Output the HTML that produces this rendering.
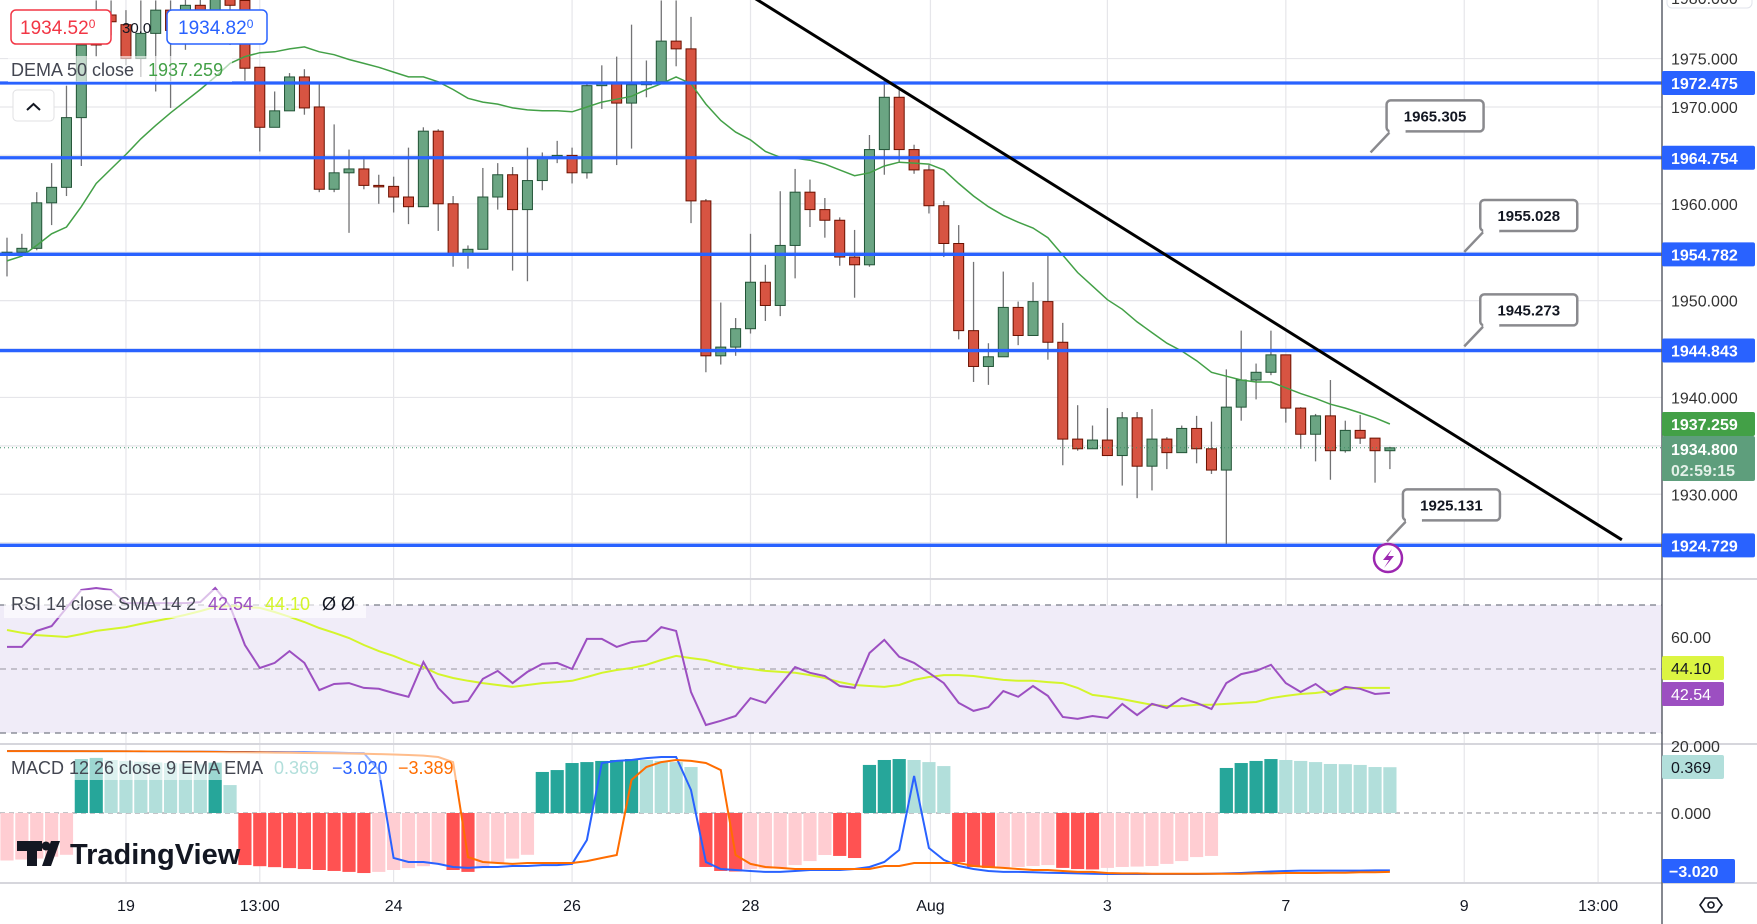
<!DOCTYPE html>
<html><head><meta charset="utf-8"><style>
html,body{margin:0;padding:0;background:#fff;}
svg{display:block;font-family:"Liberation Sans",sans-serif;}
</style></head><body>
<svg id="chart" width="1757" height="924" viewBox="0 0 1757 924" xmlns="http://www.w3.org/2000/svg">
<defs>
<clipPath id="cMain"><rect x="0" y="0" width="1662" height="579"/></clipPath>
<clipPath id="cRsi"><rect x="0" y="580" width="1662" height="164"/></clipPath>
<clipPath id="cMacd"><rect x="0" y="745" width="1662" height="138"/></clipPath>
</defs>
<rect x="0" y="0" width="1757" height="924" fill="#fff"/>
<g id="grid"></g>
<rect x="0" y="605" width="1662" height="128" fill="#f0ecf8"/>
<g id="mainG" clip-path="url(#cMain)"></g>
<g id="rsiG" clip-path="url(#cRsi)"></g>
<g id="macdG" clip-path="url(#cMacd)"></g>
<g id="overlay"></g>
<g id="axisG"></g>
</svg>
<script>
const opens=[1954.7,1955.0,1955.4,1960.1,1961.7,1968.9,1979.0,1979.5,1978.5,1975.0,1977.6,1980.0,1977.9,1980.5,1979.5,1981.6,1981.0,1974.1,1967.9,1969.6,1973.1,1970.0,1961.5,1963.2,1963.6,1961.9,1961.8,1960.7,1959.7,1967.5,1960.0,1954.7,1955.3,1960.7,1963.0,1959.4,1962.4,1964.8,1965.0,1963.2,1972.2,1972.4,1970.4,1972.3,1972.6,1976.8,1976.0,1960.3,1944.3,1945.2,1947.1,1951.9,1949.5,1955.7,1961.2,1959.4,1958.3,1954.5,1953.7,1965.6,1971.0,1965.6,1963.5,1959.8,1955.9,1946.9,1943.2,1944.2,1949.3,1946.4,1949.9,1945.7,1935.7,1934.7,1935.6,1934.0,1937.9,1932.9,1935.7,1934.3,1936.8,1934.7,1932.5,1939.0,1941.8,1942.6,1944.4,1938.9,1936.2,1938.1,1934.5,1936.6,1935.8,1934.5];
const closes=[1955.0,1955.4,1960.1,1961.7,1968.9,1976.4,1976.4,1978.8,1975.0,1977.6,1980.0,1977.9,1980.5,1979.5,1981.6,1980.5,1974.0,1967.9,1969.6,1973.1,1969.9,1961.5,1963.2,1963.6,1961.9,1961.8,1960.7,1959.7,1967.5,1960.0,1954.7,1955.3,1960.7,1963.0,1959.4,1962.4,1964.8,1965.0,1963.2,1972.2,1972.4,1970.4,1972.3,1972.6,1976.8,1976.0,1960.3,1944.3,1945.2,1947.1,1951.9,1949.5,1955.7,1961.2,1959.4,1958.3,1954.5,1953.7,1965.6,1971.0,1965.6,1963.5,1959.8,1955.9,1946.9,1943.2,1944.2,1949.3,1946.4,1949.9,1945.7,1935.7,1934.7,1935.6,1934.0,1937.9,1932.9,1935.7,1934.3,1936.8,1934.7,1932.5,1939.0,1941.8,1942.6,1944.4,1938.9,1936.2,1938.1,1934.5,1936.6,1935.8,1934.5,1934.8];
const highs=[1956.5,1956.9,1961.2,1964.2,1972.2,1977.9,1981.0,1981.0,1980.0,1981.0,1981.0,1981.0,1981.6,1981.6,1983.1,1983.1,1982.1,1974.1,1971.6,1973.5,1973.9,1972.4,1968.2,1965.6,1964.9,1963.0,1962.8,1965.8,1967.9,1967.7,1960.8,1955.7,1963.7,1964.2,1963.8,1965.8,1965.3,1966.5,1965.8,1972.6,1974.3,1975.2,1978.5,1974.8,1981.0,1981.0,1979.3,1960.5,1949.8,1948.2,1956.9,1953.7,1961.3,1963.6,1962.5,1960.6,1958.6,1957.3,1967.1,1972.8,1971.9,1966.1,1964.0,1960.3,1957.8,1954.0,1945.6,1953.0,1949.9,1951.9,1954.9,1947.7,1939.2,1937.1,1938.9,1938.5,1938.5,1938.8,1935.9,1937.1,1938.1,1937.5,1942.9,1946.9,1943.5,1946.9,1944.4,1939.0,1938.3,1941.8,1937.6,1938.2,1935.8,1934.9];
const lows=[1952.5,1954.6,1955.2,1957.8,1960.8,1963.9,1975.2,1977.4,1974.3,1973.1,1971.6,1969.9,1975.9,1976.9,1977.9,1976.4,1972.7,1965.4,1967.9,1969.6,1969.2,1961.2,1961.2,1957.0,1961.5,1960.0,1959.1,1957.9,1959.7,1957.2,1953.5,1953.3,1955.3,1959.4,1953.1,1952.0,1961.4,1964.2,1962.1,1962.6,1969.8,1964.0,1965.7,1971.0,1972.6,1974.2,1958.0,1942.6,1943.4,1944.3,1946.6,1947.9,1948.4,1952.3,1957.6,1956.5,1953.6,1950.3,1953.5,1963.0,1964.3,1963.1,1959.0,1954.5,1946.0,1941.6,1941.3,1944.2,1945.4,1946.4,1943.9,1933.0,1934.5,1934.7,1934.0,1930.9,1929.6,1930.4,1932.6,1934.3,1933.2,1932.1,1924.7,1937.6,1939.8,1942.3,1937.4,1934.7,1933.4,1931.5,1934.3,1935.2,1931.2,1932.6];
const dema=[1954.1,1954.6,1955.7,1956.9,1957.6,1959.7,1962.1,1963.6,1965.1,1966.7,1968.1,1969.4,1970.6,1971.8,1973.1,1974.5,1975.2,1975.6,1975.7,1976.0,1976.2,1975.7,1975.4,1974.9,1974.5,1974.1,1973.6,1973.1,1973.1,1972.6,1971.8,1970.9,1970.5,1970.3,1969.9,1969.7,1969.6,1969.6,1969.5,1970.0,1970.5,1970.8,1971.1,1971.8,1972.4,1973.1,1972.4,1970.3,1968.6,1967.4,1966.6,1965.4,1964.8,1964.7,1964.5,1964.1,1963.5,1962.9,1963.2,1963.9,1964.3,1964.2,1964.1,1963.5,1962.1,1960.8,1959.7,1958.8,1958.1,1957.5,1956.5,1954.7,1952.9,1951.5,1950.1,1949.1,1947.8,1946.7,1945.6,1944.8,1943.8,1942.6,1942.2,1941.8,1941.6,1941.6,1941.0,1940.4,1939.9,1939.3,1938.9,1938.4,1937.9,1937.26];
const rsi=[56.9,56.9,61.9,63.4,69.1,74.7,75.3,74.7,70.6,70.6,70.6,70.6,70.6,70.9,75.3,69.7,57.5,50.3,51.9,55.6,51.9,43.4,45.3,45.6,44.1,43.8,42.5,41.3,52.2,44.1,39.4,40.0,46.9,49.4,45.6,49.1,51.6,51.9,50.0,59.4,59.4,56.9,58.4,58.8,63.1,61.9,42.8,32.5,33.8,35.3,40.9,39.4,45.0,50.6,48.8,47.8,44.7,44.1,55.0,59.1,53.8,51.9,48.8,45.6,39.4,36.9,38.1,43.1,41.3,44.7,41.6,35.0,34.4,35.3,34.7,39.1,35.6,39.1,37.8,40.9,39.4,37.5,45.6,48.4,49.4,51.3,45.6,42.8,45.3,41.9,44.4,43.8,42.2,42.54];
const rsiSma=[62.2,61.3,60.6,60.3,60.0,60.9,61.9,62.5,63.1,64.1,65.0,65.9,66.9,68.1,69.4,69.7,69.4,69.1,67.8,66.3,64.7,62.8,61.3,59.7,57.5,55.6,54.1,52.2,50.6,48.4,47.2,46.3,45.6,45.0,44.4,45.0,45.6,45.9,46.3,47.5,48.8,49.7,50.3,51.3,52.8,54.1,53.4,52.8,51.6,50.6,50.0,49.4,49.1,48.8,48.1,47.2,45.9,45.0,44.7,44.4,45.0,46.6,47.5,48.1,48.1,47.8,47.2,46.6,46.3,46.3,45.9,45.6,44.1,41.9,41.3,40.6,39.7,38.8,38.4,38.4,38.8,38.8,39.1,39.4,39.7,40.9,41.6,42.2,42.5,43.1,43.8,44.1,44.1,44.10];
const macdHist=[-2.5,-2.45,-2.4,-2.3,-2.2,2.84,2.90,2.79,2.74,2.70,2.66,2.63,2.60,2.56,2.65,1.47,-2.74,-2.8,-2.85,-2.9,-2.95,-3.0,-3.05,-3.1,-3.16,-3.1,-3.0,-2.9,-2.8,-2.7,-3.0,-3.1,-2.9,-2.6,-2.4,-2.2,2.16,2.26,2.63,2.68,2.74,2.79,2.84,2.79,2.74,2.68,2.42,-2.84,-3.05,-3.08,-2.95,-2.93,-2.89,-2.74,-2.53,-2.21,-2.26,-2.37,2.53,2.79,2.84,2.79,2.68,2.47,-2.58,-2.84,-2.89,-2.87,-2.84,-2.79,-2.74,-2.89,-2.95,-2.97,-2.89,-2.84,-2.82,-2.79,-2.68,-2.53,-2.32,-2.26,2.37,2.63,2.74,2.84,2.79,2.74,2.68,2.58,2.57,2.53,2.42,2.41];
const macdLine=[3.26,3.26,3.26,3.25,3.25,3.25,3.24,3.24,3.24,3.23,3.23,3.23,3.22,3.22,3.22,3.21,3.21,3.2,3.2,3.19,3.19,3.18,3.17,3.16,3.15,2.26,-2.37,-2.58,-2.58,-2.68,-2.84,-2.89,-2.84,-2.84,-2.79,-2.79,-2.74,-2.74,-2.68,-1.42,2.63,2.74,2.79,2.89,2.95,2.95,1.21,-2.58,-2.95,-3.0,-3.05,-3.1,-3.1,-3.05,-3.0,-3.0,-3.0,-2.95,-2.84,-2.58,-1.95,1.95,-1.84,-2.47,-2.79,-2.95,-3.05,-3.1,-3.1,-3.12,-3.14,-3.16,-3.18,-3.2,-3.21,-3.21,-3.21,-3.21,-3.21,-3.21,-3.21,-3.2,-3.18,-3.16,-3.12,-3.08,-3.05,-3.03,-3.03,-3.03,-3.03,-3.03,-3.02,-3.02];
const signalLine=[3.26,3.26,3.26,3.26,3.25,3.25,3.25,3.25,3.24,3.24,3.23,3.23,3.22,3.22,3.21,3.2,3.2,3.19,3.18,3.17,3.16,3.15,3.14,3.13,3.12,3.1,3.08,3.05,3.02,2.95,2.68,-2.32,-2.58,-2.63,-2.68,-2.63,-2.63,-2.63,-2.63,-2.53,-2.37,-2.21,1.74,2.42,2.68,2.79,2.74,2.63,2.26,-2.21,-2.68,-2.84,-2.89,-2.95,-2.95,-2.95,-2.95,-2.95,-2.95,-2.79,-2.79,-2.63,-2.63,-2.63,-2.63,-2.79,-2.84,-2.89,-2.95,-3.0,-3.0,-3.05,-3.1,-3.1,-3.16,-3.18,-3.18,-3.2,-3.2,-3.2,-3.2,-3.2,-3.2,-3.2,-3.18,-3.18,-3.16,-3.16,-3.16,-3.14,-3.14,-3.12,-3.12,-3.1];
const levels=[1972.475,1964.754,1954.782,1944.843,1924.729];
const priceTicks=[1975,1970,1965,1960,1955,1950,1945,1940,1935,1930,1925];
const priceTickLabels=["1975.000","1970.000","1960.000","1950.000","1940.000","1930.000"];
const priceTickLabelVals=[1975,1970,1960,1950,1940,1930];
const timeLabels=["19","13:00","24","26","28","Aug","3","7","9","13:00"];
const timeLabelIdx=[8,17,26,38,50,62.1,74,86,98,107];
const callouts=[["1965.305",1965.305,91.7],["1955.028",1955.028,98],["1945.273",1945.273,98],["1925.131",1925.131,92.8]];
const trendStart=[50,1981.5];
const trendEnd=[108.6,1925.3];

const NS="http://www.w3.org/2000/svg";
const xOf=i=>7+i*14.87;
const yP=p=>83+(1972.475-p)*9.683;
const yR=v=>669-(v-50)*3.2;
const yM=v=>813-v*19;
function mk(tag,attrs,parent){const e=document.createElementNS(NS,tag);for(const k in attrs)e.setAttribute(k,attrs[k]);parent.appendChild(e);return e;}
const grid=document.getElementById('grid'),mainG=document.getElementById('mainG'),rsiG=document.getElementById('rsiG'),macdG=document.getElementById('macdG'),ov=document.getElementById('overlay'),ax=document.getElementById('axisG');

timeLabelIdx.forEach(i=>{const l=mk('line',{x1:xOf(i),x2:xOf(i),y1:0,y2:883,stroke:'#e6e6ea','stroke-width':1.2},grid);

});
priceTicks.forEach(p=>{const l=mk('line',{x1:0,x2:1662,y1:yP(p),y2:yP(p),stroke:'#e6e6ea','stroke-width':1.2},grid);

});
[60,40].forEach(v=>{const l=mk('line',{x1:0,x2:1662,y1:yR(v),y2:yR(v),stroke:'#dcd8e6','stroke-width':1},grid);

});

for(let i=0;i<opens.length;i++){
 const up=closes[i]>=opens[i];const x=xOf(i);
 const w=mk('line',{x1:x,x2:x,y1:yP(highs[i]),y2:yP(lows[i]),stroke:'#737375','stroke-width':1.3},mainG);
 
 
 const t=yP(Math.max(opens[i],closes[i])),b=yP(Math.min(opens[i],closes[i]));
 const r=mk('rect',{x:x-5,y:t,width:10,height:Math.max(b-t,1.5),fill:up?'#6ba583':'#d75442',stroke:up?'#225437':'#6b1100','stroke-width':1},mainG);
 
 
}
let d='';dema.forEach((v,i)=>{d+=(i?'L':'M')+xOf(i).toFixed(1)+' '+yP(v).toFixed(1);});
const dl=mk('path',{d:d,fill:'none',stroke:'#43a047','stroke-width':1.5},mainG);


levels.forEach(p=>{const l=mk('line',{x1:0,x2:1662,y1:yP(p),y2:yP(p),stroke:'#2962ff','stroke-width':3.3},mainG);

});
const cp=mk('line',{x1:0,x2:1662,y1:yP(closes[closes.length-1]),y2:yP(closes[closes.length-1]),stroke:'#3d8f66','stroke-width':1,'stroke-dasharray':'1 3'},mainG);


const tl=mk('line',{x1:xOf(trendStart[0]),y1:yP(trendStart[1]),x2:xOf(trendEnd[0]),y2:yP(trendEnd[1]),stroke:'#000','stroke-width':3},mainG);


callouts.forEach(c=>{const px=xOf(c[2]),py=yP(c[1]);const bx=px+16,by=py-52;
 const g=mk('g',{},mainG);
 
 
 mk('path',{d:`M${px} ${py} L${bx+4} ${by+31} L${bx+20} ${by+31}`,fill:'#fff',stroke:'#8a8a8e','stroke-width':2.5},g);
 mk('rect',{x:bx,y:by,width:97,height:31,rx:4,fill:'#fff',stroke:'#8a8a8e','stroke-width':2.5},g);
 mk('rect',{x:bx+3,y:by+28,width:16,height:5,fill:'#fff'},g);
 const t=mk('text',{x:bx+48.5,y:by+21,'text-anchor':'middle','font-size':15,'font-weight':'bold',fill:'#131722'},g);t.textContent=c[0];
});
const lg=mk('g',{},mainG);


mk('circle',{cx:1388,cy:558,r:14,fill:'#fff',stroke:'#9c27b0','stroke-width':2.5},lg);
mk('path',{d:'M1392 549 L1383 560 L1389 560 L1384 568 L1394 556 L1388 556 Z',fill:'#9c27b0'},lg);

[[70,'rsi-upper-band'],[50,'rsi-middle-band'],[30,'rsi-lower-band']].forEach(b=>{const l=mk('line',{x1:0,x2:1662,y1:yR(b[0]),y2:yR(b[0]),stroke:b[0]==50?'#a8a5b0':'#787b86','stroke-width':1.3,'stroke-dasharray':'6 5'},rsiG);

});
let rp='',sp='';rsi.forEach((v,i)=>{rp+=(i?'L':'M')+xOf(i).toFixed(1)+' '+yR(v).toFixed(1);});
rsiSma.forEach((v,i)=>{sp+=(i?'L':'M')+xOf(i).toFixed(1)+' '+yR(v).toFixed(1);});
const sl=mk('path',{d:sp,fill:'none',stroke:'#d4f52b','stroke-width':2},rsiG);


const rl=mk('path',{d:rp,fill:'none',stroke:'#9c4fc1','stroke-width':2},rsiG);



const z=mk('line',{x1:0,x2:1662,y1:yM(0),y2:yM(0),stroke:'#a0a0a6','stroke-width':1.3,'stroke-dasharray':'5 4'},macdG);


macdHist.forEach((v,i)=>{const prev=i?macdHist[i-1]:(v>=0?v+1:v-1);let col;
 if(v>=0)col=(v>=prev)?'#26a69a':'#b2dfdb';else col=(v<=prev)?'#ff5252':'#ffcdd2';
 const y0=yM(0),y1=yM(v);
 const r=mk('rect',{x:xOf(i)-6.6,y:Math.min(y0,y1),width:13.2,height:Math.abs(y1-y0),fill:col},macdG);
 
 });
let mp='',gp='';macdLine.forEach((v,i)=>{mp+=(i?'L':'M')+xOf(i).toFixed(1)+' '+yM(v).toFixed(1);});
signalLine.forEach((v,i)=>{gp+=(i?'L':'M')+xOf(i).toFixed(1)+' '+yM(v).toFixed(1);});
const ml=mk('path',{d:mp,fill:'none',stroke:'#2962ff','stroke-width':2},macdG);


const gl=mk('path',{d:gp,fill:'none',stroke:'#ff6d00','stroke-width':2},macdG);



function txt(x,y,s,attrs,parent,name,inter){const t=mk('text',Object.assign({x:x,y:y},attrs),parent);t.textContent=s;
 
 return t;}
const sellBox=mk('rect',{x:11,y:10,width:100,height:34,rx:5,fill:'#fff',stroke:'#f23645','stroke-width':1.5},ov);


const st=txt(20,34,'1934.52',{'font-size':19,fill:'#f23645'},ov,'sell-price',true);
const sts=mk('tspan',{'font-size':12,dy:-6},st);sts.textContent='0';
txt(122,33,'30.0',{'font-size':15,fill:'#131722'},ov,'spread-value',false);
const buyBox=mk('rect',{x:167,y:10,width:100,height:34,rx:5,fill:'#fff',stroke:'#2962ff','stroke-width':1.5},ov);


const bt=txt(178,34,'1934.82',{'font-size':19,fill:'#2962ff'},ov,'buy-price',true);
const bts=mk('tspan',{'font-size':12,dy:-6},bt);bts.textContent='0';
const dbg=mk('rect',{x:8,y:56,width:224,height:26,fill:'rgba(255,255,255,0.6)'},ov);


txt(11,76,'DEMA 50 close',{'font-size':18,fill:'#434651'},ov,'dema-legend-title',false);
txt(148,76,'1937.259',{'font-size':18,fill:'#43a047'},ov,'dema-legend-value',false);
const cb=mk('rect',{x:13,y:90,width:41,height:31,rx:4,fill:'#fff',stroke:'#e0e0e3','stroke-width':1},ov);


mk('path',{d:'M27 110 L33.5 104 L40 110',fill:'none',stroke:'#131722','stroke-width':2},ov);
const rbg=mk('rect',{x:4,y:590,width:362,height:28,fill:'rgba(255,255,255,0.65)'},ov);


txt(11,610,'RSI 14 close SMA 14 2',{'font-size':18,fill:'#434651'},ov,'rsi-legend-title',false);
txt(208,610,'42.54',{'font-size':18,fill:'#9c4fc1'},ov,'rsi-legend-value',false);
txt(265,610,'44.10',{'font-size':18,fill:'#d4f52b'},ov,'rsi-sma-legend-value',false);
txt(322,610,'Ø  Ø',{'font-size':18,fill:'#131722'},ov,'rsi-legend-extra',false);
const mbg=mk('rect',{x:4,y:752,width:462,height:28,fill:'rgba(255,255,255,0.55)'},ov);


txt(11,774,'MACD 12 26 close 9 EMA EMA',{'font-size':18,fill:'#434651'},ov,'macd-legend-title',false);
txt(274,774,'0.369',{'font-size':18,fill:'#b2dfdb'},ov,'macd-hist-legend-value',false);
txt(332,774,'−3.020',{'font-size':18,fill:'#2962ff'},ov,'macd-legend-value',false);
txt(398,774,'−3.389',{'font-size':18,fill:'#ff6d00'},ov,'signal-legend-value',false);
const lgG=mk('g',{},ov);


mk('rect',{x:17,y:841,width:25,height:10,fill:'#131722'},lgG);
mk('rect',{x:27,y:841,width:10,height:25,fill:'#131722'},lgG);
mk('circle',{cx:46,cy:846,r:4.5,fill:'#131722'},lgG);
mk('path',{d:'M51 841 L60 841 L51 866 L42 866 Z',fill:'#131722'},lgG);
txt(70,864,'TradingView',{'font-size':29,'font-weight':'bold',fill:'#131722'},lgG,'tradingview-wordmark',false);

[[579,'price-rsi-separator'],[744,'rsi-macd-separator'],[883,'time-axis-line']].forEach(s=>{const l=mk('line',{x1:0,x2:1757,y1:s[0],y2:s[0],stroke:'#d6d6dc','stroke-width':2},ax);

});
const va=mk('line',{x1:1662,x2:1662,y1:0,y2:924,stroke:'#5d606b','stroke-width':1.5},ax);


const tb=mk('rect',{x:1667,y:-14,width:85,height:22,rx:5,fill:'#fff',stroke:'#e0e3eb'},ax);


priceTickLabels.forEach((s,k)=>{txt(1671,yP(priceTickLabelVals[k])+6,s,{'font-size':16,fill:'#333'},ax,'price-tick-label',false);});
txt(1671,4,'1980.000',{'font-size':16,fill:'#333'},ax,'price-tick-label',false);
function tag(y,s,bg,fg,name,h){const r=mk('rect',{x:1662,y:y-(h||24)/2,width:93,height:h||24,rx:2,fill:bg},ax);
 
 
 return txt(1671,y+6,s,{'font-size':16,'font-weight':'bold',fill:fg},ax,name,false);}
levels.forEach(p=>tag(yP(p),p.toFixed(3),'#2962ff','#fff','level-price-label'));
tag(yP(dema[dema.length-1]),'1937.259','#43a047','#fff','dema-price-label');
const cpr=mk('rect',{x:1662,y:436,width:93,height:45,rx:2,fill:'#5e9e7c'},ax);


txt(1671,455,'1934.800',{'font-size':16,'font-weight':'bold',fill:'#fff'},ax,'current-price-label',false);
txt(1671,476,'02:59:15',{'font-size':16,'font-weight':'bold',fill:'#e3f0e8'},ax,'countdown-label',false);
txt(1671,643,'60.00',{'font-size':16,fill:'#333'},ax,'rsi-tick-label',false);
const ysm=mk('rect',{x:1662,y:656,width:62,height:24,rx:2,fill:'#dcf542'},ax);


txt(1671,674,'44.10',{'font-size':16,fill:'#131722'},ax,'rsi-sma-label',false);
const prs=mk('rect',{x:1662,y:682,width:62,height:24,rx:2,fill:'#9c4fc1'},ax);


txt(1671,700,'42.54',{'font-size':16,fill:'#fff'},ax,'rsi-label',false);
txt(1671,752,'20.000',{'font-size':16,fill:'#333'},ax,'macd-tick-label',false);
const h1=mk('rect',{x:1662,y:755,width:62,height:24,rx:2,fill:'#b2dfdb'},ax);


txt(1671,773,'0.369',{'font-size':16,fill:'#131722'},ax,'macd-hist-label',false);
txt(1671,819,'0.000',{'font-size':16,fill:'#333'},ax,'macd-tick-label',false);
const m1=mk('rect',{x:1662,y:859,width:73,height:24,rx:2,fill:'#2962ff'},ax);


txt(1669,877,'−3.020',{'font-size':16,'font-weight':'bold',fill:'#fff'},ax,'macd-value-label',false);
timeLabels.forEach((s,k)=>{txt(xOf(timeLabelIdx[k]),911,s,{'font-size':16,fill:'#131722','text-anchor':'middle'},ax,'time-tick-label',false);});
const eye=mk('g',{},ax);


mk('path',{d:'M1700 905 L1705 898 L1717 898 L1722 905 L1717 912 L1705 912 Z',fill:'none',stroke:'#131722','stroke-width':1.6},eye);
mk('circle',{cx:1711,cy:905,r:3,fill:'none',stroke:'#131722','stroke-width':1.6},eye);
</script>
</body></html>
